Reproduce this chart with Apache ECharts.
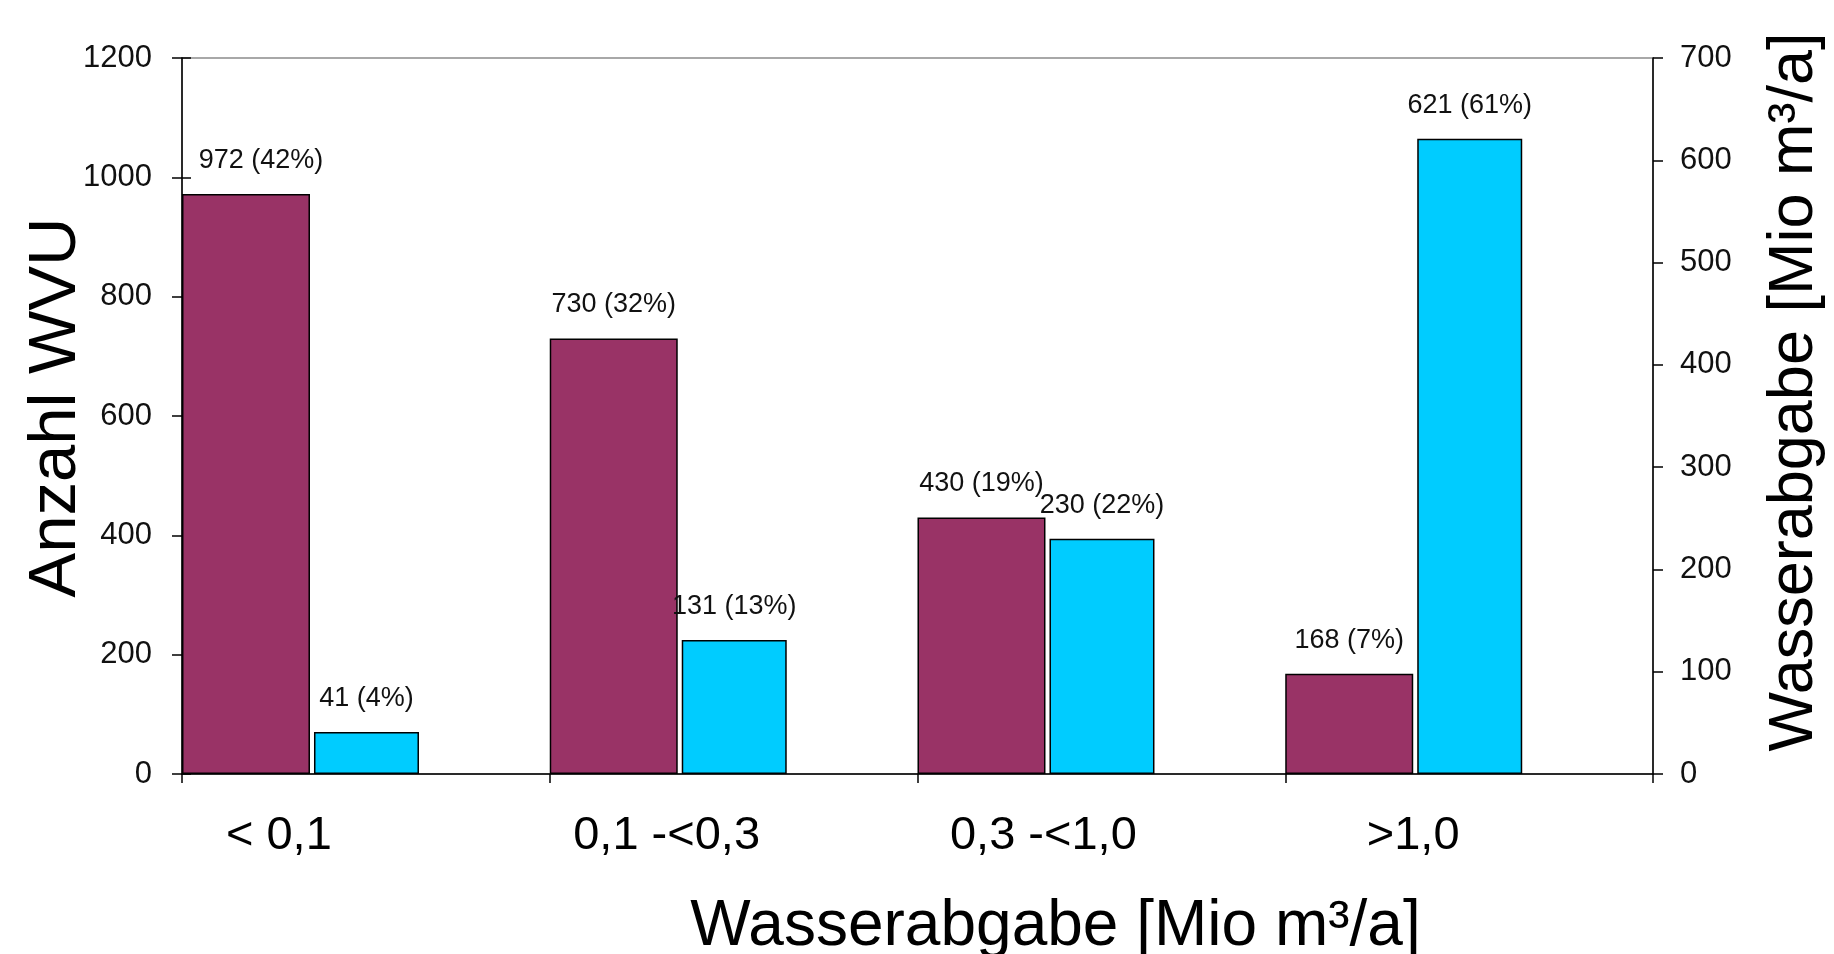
<!DOCTYPE html>
<html>
<head>
<meta charset="utf-8">
<script src="https://cdn.jsdelivr.net/npm/echarts@6/dist/echarts.min.js"></script>
<style>
  html, body { margin: 0; padding: 0; background: #ffffff; }
  #chart { width: 1834px; height: 954px; }
</style>
</head>
<body>
<div id="chart"></div>
<script>
// Size classes of annual water delivery
const categories = ['< 0,1', '0,1 -<0,3', '0,3 -<1,0', '>1,0'];

// Number of water supply companies (WVU) per class, and their share
const supplierCount = [972, 730, 430, 168];
const supplierShare = [42, 32, 19, 7];

// Water delivered per class [Mio m³/a], and its share
const waterVolume = [41, 131, 230, 621];
const volumeShare = [4, 13, 22, 61];

// Tick values of both value axes
const countTicks = [0, 200, 400, 600, 800, 1000, 1200];
const volumeTicks = [0, 100, 200, 300, 400, 500, 600, 700];

// Layout tweaks (pixels)
const categoryLabelShift = [-87, -67, -58, -56];   // horizontal shift of category labels
const countLabelNudge = [15, 0, 0, 0];            // keeps first value label clear of the axis

const SANS = "'Liberation Sans', Arial, Helvetica, sans-serif";
const INK = '#000000';
const MAROON = '#993366';
const CYAN = '#00CCFF';

const axisLineStyle = { color: INK, width: 1.5 };

const categoryRich = {};
categoryLabelShift.forEach(function (shift, i) {
  categoryRich['c' + i] = {
    fontSize: 47,
    fontFamily: SANS,
    color: INK,
    padding: shift < 0 ? [0, -2 * shift, 0, 0] : [0, 0, 0, 2 * shift]
  };
});

function stepOf(ticks) { return ticks[1] - ticks[0]; }
function plainNumber(v) { return String(v); }

const chart = echarts.init(document.getElementById('chart'), null, { renderer: 'canvas' });

chart.setOption({
  animation: false,
  backgroundColor: '#ffffff',
  grid: {
    left: 182,
    right: 181,
    top: 58,
    bottom: 180,
    containLabel: false,
    outerBoundsMode: 'none',
    show: true,
    borderColor: '#8c8c8c',
    borderWidth: 1.5,
    backgroundColor: 'transparent'
  },
  xAxis: {
    type: 'category',
    data: categories,
    boundaryGap: true,
    axisLine: { show: true, lineStyle: axisLineStyle },
    axisTick: { show: true, length: 9, alignWithLabel: false, lineStyle: axisLineStyle },
    axisLabel: {
      margin: 39,
      interval: 0,
      formatter: function (value, index) { return '{c' + index + '|' + value + '}'; },
      rich: categoryRich
    },
    splitLine: { show: false },
    name: 'Wasserabgabe [Mio m³/a]',
    nameLocation: 'middle',
    nameGap: 121,
    nameMoveOverlap: false,
    nameTextStyle: {
      fontSize: 64,
      fontFamily: SANS,
      color: INK,
      padding: [0, 0, 0, 276]
    }
  },
  yAxis: [
    {
      type: 'value',
      position: 'left',
      min: countTicks[0],
      max: countTicks[countTicks.length - 1],
      interval: stepOf(countTicks),
      axisLine: { show: true, lineStyle: axisLineStyle },
      axisTick: { show: true, inside: false, length: 10, lineStyle: axisLineStyle },
      axisLabel: { margin: 30, fontSize: 31, fontFamily: SANS, color: '#111111', formatter: plainNumber },
      splitLine: { show: false },
      name: 'Anzahl WVU',
      nameLocation: 'middle',
      nameRotate: 90,
      nameGap: 92,
      nameMoveOverlap: false,
      nameTextStyle: { fontSize: 67, fontFamily: SANS, color: INK, padding: [0, 0, 0, 17] }
    },
    {
      type: 'value',
      position: 'right',
      min: volumeTicks[0],
      max: volumeTicks[volumeTicks.length - 1],
      interval: stepOf(volumeTicks),
      axisLine: { show: true, lineStyle: axisLineStyle },
      axisTick: { show: true, inside: false, length: 10, lineStyle: axisLineStyle },
      axisLabel: { margin: 27, fontSize: 31, fontFamily: SANS, color: '#111111', formatter: plainNumber },
      splitLine: { show: false },
      name: 'Wasserabgabe [Mio m³/a]',
      nameLocation: 'middle',
      nameRotate: 90,
      nameGap: 110,
      nameMoveOverlap: false,
      nameTextStyle: { fontSize: 63, fontFamily: SANS, color: INK, padding: [0, 0, 0, 48] }
    },
    {
      // inner half of the left tick marks, so they cross the axis line
      type: 'value',
      position: 'left',
      min: countTicks[0],
      max: countTicks[countTicks.length - 1],
      interval: stepOf(countTicks),
      axisLine: { show: false },
      axisTick: { show: true, inside: true, length: 9, lineStyle: axisLineStyle },
      axisLabel: { show: false },
      splitLine: { show: false }
    }
  ],
  series: [
    {
      name: 'Anzahl WVU',
      type: 'bar',
      yAxisIndex: 0,
      barWidth: 128,
      barGap: '3.125%',
      data: supplierCount.map(function (v, i) {
        return { value: v, label: { offset: [countLabelNudge[i], 0] } };
      }),
      itemStyle: { color: MAROON, borderColor: INK, borderWidth: 1.5 },
      label: {
        show: true,
        position: 'top',
        distance: 20,
        fontSize: 27,
        fontFamily: SANS,
        color: '#111111',
        formatter: function (p) { return p.value + ' (' + supplierShare[p.dataIndex] + '%)'; }
      }
    },
    {
      name: 'Wasserabgabe',
      type: 'bar',
      yAxisIndex: 1,
      barWidth: 105,
      barGap: '3.125%',
      data: waterVolume,
      itemStyle: { color: CYAN, borderColor: INK, borderWidth: 1.5 },
      label: {
        show: true,
        position: 'top',
        distance: 20,
        fontSize: 27,
        fontFamily: SANS,
        color: '#111111',
        formatter: function (p) { return p.value + ' (' + volumeShare[p.dataIndex] + '%)'; }
      }
    },
    {
      // empty slot that keeps the bar pair at the left of each class
      name: 'reserve',
      type: 'bar',
      yAxisIndex: 0,
      barWidth: 127.5,
      barGap: '3.125%',
      data: []
    }
  ]
});
</script>
</body>
</html>
